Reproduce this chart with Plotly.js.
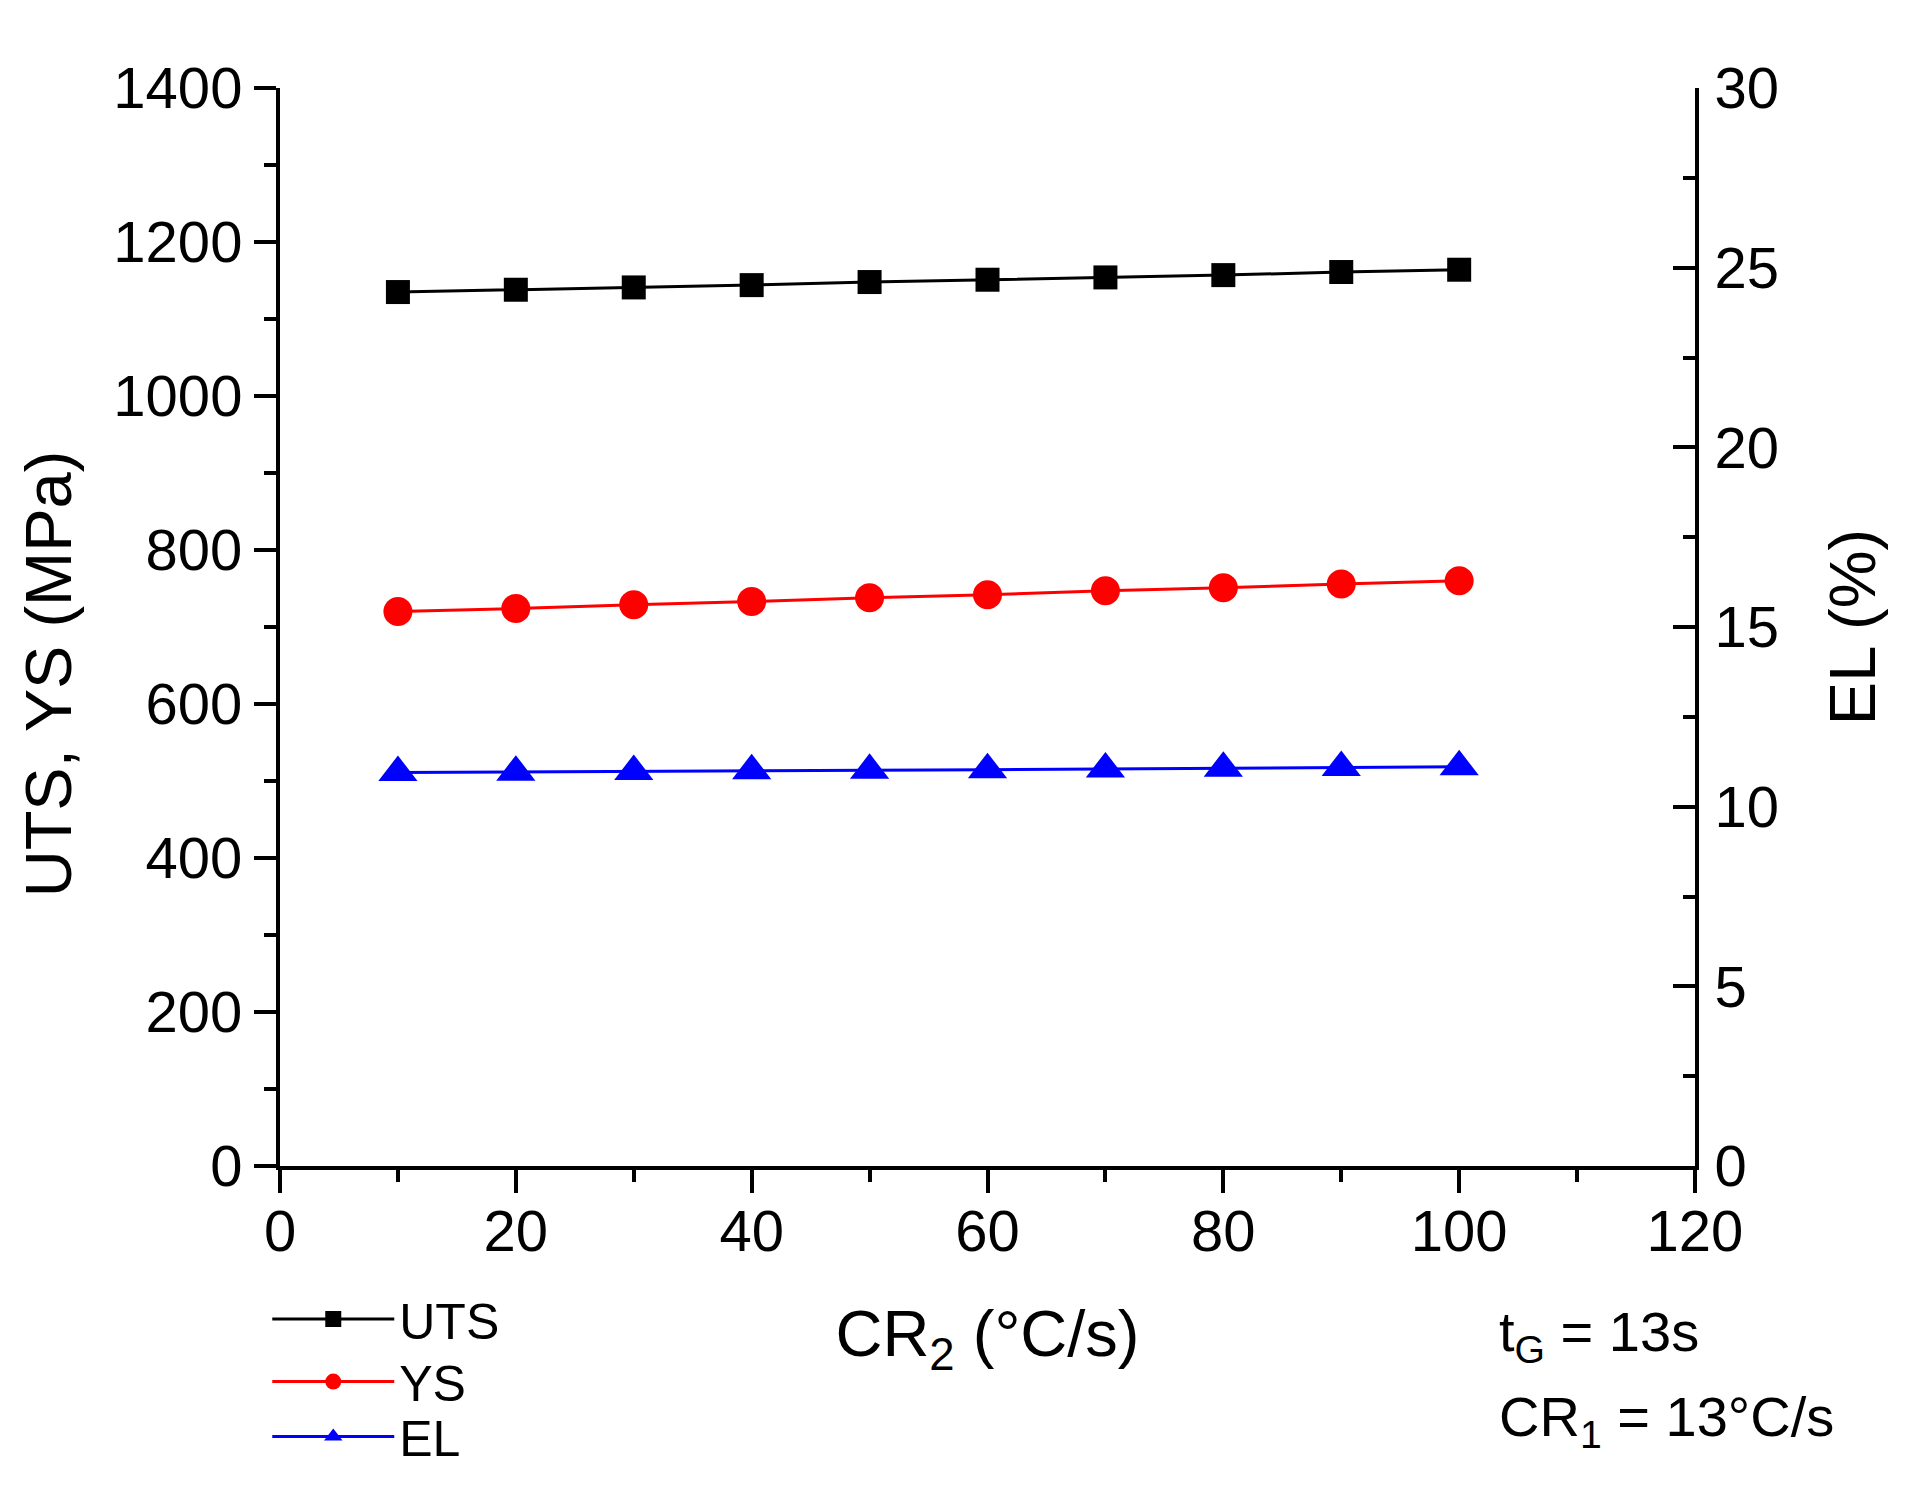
<!DOCTYPE html>
<html>
<head>
<meta charset="utf-8">
<script src="https://cdn.plot.ly/plotly-3.0.1.min.js"></script>
<style>
  html, body { margin: 0; padding: 0; background: #fff; }
  #chart { width: 1906px; height: 1488px; }
</style>
</head>
<body>
<div id="chart"></div>
<script>
// cooling rate CR2 (°C/s)
const coolingRate = [10, 20, 30, 40, 50, 60, 70, 80, 90, 100];
// strength in MPa
const utsValues = [1135, 1138, 1141, 1144, 1148, 1151, 1154, 1157, 1161, 1164];
const ysValues = [720, 724, 729, 733, 738, 742, 747, 751, 756, 760];
// elongation in %
const elValues = [10.95, 10.96, 10.98, 11.0, 11.01, 11.03, 11.05, 11.07, 11.09, 11.11];

const FONT = "Liberation Sans, Arial, sans-serif";

var traces = [
  {
    x: coolingRate, y: utsValues, name: "UTS", legend: "legend",
    type: "scatter", mode: "lines+markers",
    line: {color: "#000000", width: 3},
    marker: {symbol: "square", size: 24, color: "#000000"}
  },
  {
    x: coolingRate, y: ysValues, name: "YS", legend: "legend2",
    type: "scatter", mode: "lines+markers",
    line: {color: "#ff0000", width: 3},
    marker: {symbol: "circle", size: 29, color: "#ff0000"}
  },
  {
    x: coolingRate, y: elValues, name: "EL", yaxis: "y2", legend: "legend3",
    type: "scatter", mode: "lines+markers",
    line: {color: "#0000ff", width: 3},
    marker: {symbol: "triangle-up", size: 34, color: "#0000ff"}
  }
];

var axisCommon = {
  showline: true, linecolor: "#000", linewidth: 4,
  showgrid: false, zeroline: false,
  tickcolor: "#000", tickwidth: 4,
  tickfont: {family: FONT, size: 58, color: "#000"}
};

// one legend per row, so the rows can sit where the reference has them
function legendRow(yPos) {
  return {
    x: -0.009, xanchor: "left",
    y: yPos, yanchor: "middle",
    font: {family: FONT, size: 50, color: "#000"},
    itemwidth: 122,
    bgcolor: "rgba(0,0,0,0)"
  };
}

var layout = {
  width: 1906,
  height: 1488,
  margin: {l: 280, r: 211, t: 88, b: 285},
  paper_bgcolor: "#fff",
  plot_bgcolor: "#fff",
  font: {family: FONT, color: "#000"},
  showlegend: true,
  legend: legendRow(-0.142),
  legend2: legendRow(-0.200),
  legend3: legendRow(-0.251),
  xaxis: Object.assign({}, axisCommon, {
    range: [0, 120], tick0: 0, dtick: 20,
    ticks: "outside", ticklen: 23,
    ticklabelstandoff: -12,
    minor: {dtick: 10, ticks: "outside", ticklen: 12, tickwidth: 4, tickcolor: "#000"},
    title: {text: "CR<sub>2</sub> (°C/s)", font: {family: FONT, size: 65, color: "#000"}, standoff: 50}
  }),
  yaxis: Object.assign({}, axisCommon, {
    range: [0, 1400], tick0: 0, dtick: 200,
    ticks: "outside", ticklen: 22,
    minor: {dtick: 100, ticks: "outside", ticklen: 12, tickwidth: 4, tickcolor: "#000"}
  }),
  yaxis2: Object.assign({}, axisCommon, {
    overlaying: "y", side: "right",
    range: [0, 30], tick0: 0, dtick: 5,
    ticks: "inside", ticklen: 22,
    ticklabelstandoff: 4,
    minor: {dtick: 2.5, ticks: "inside", ticklen: 12, tickwidth: 4, tickcolor: "#000"},
    title: {text: "EL (%)", font: {family: FONT, size: 65, color: "#000"}, standoff: 52}
  }),
  annotations: [
    {
      // left axis title, placed lower than centre as in the reference
      xref: "paper", yref: "paper", x: -0.164, y: 0.457,
      xanchor: "center", yanchor: "middle", showarrow: false,
      textangle: -90,
      text: "UTS, YS (MPa)",
      font: {family: FONT, size: 65, color: "#000"}
    },
    {
      xref: "paper", yref: "paper", x: 0.860, y: -0.157,
      xanchor: "left", yanchor: "middle", showarrow: false,
      text: "t<sub>G</sub> = 13s",
      font: {family: FONT, size: 56, color: "#000"}
    },
    {
      xref: "paper", yref: "paper", x: 0.860, y: -0.236,
      xanchor: "left", yanchor: "middle", showarrow: false,
      text: "CR<sub>1</sub> = 13°C/s",
      font: {family: FONT, size: 56, color: "#000"}
    }
  ],
  hovermode: false
};

Plotly.newPlot("chart", traces, layout, {displayModeBar: false, staticPlot: true});
</script>
</body>
</html>
